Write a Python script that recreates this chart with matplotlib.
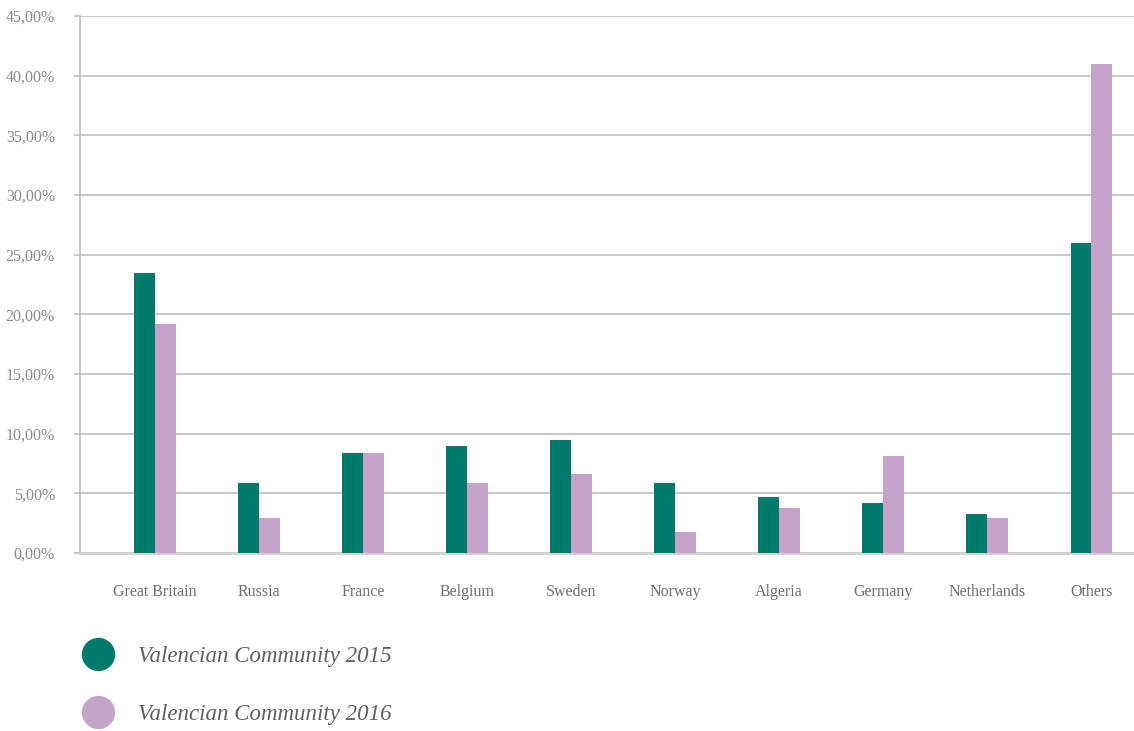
import matplotlib.pyplot as plt
from matplotlib.lines import Line2D
from matplotlib.ticker import FuncFormatter
import numpy as np

countries = ['Great Britain', 'Russia', 'France', 'Belgium', 'Sweden',
             'Norway', 'Algeria', 'Germany', 'Netherlands', 'Others']
share_2015 = [23.5, 5.9, 8.4, 9.0, 9.5, 5.9, 4.7, 4.2, 3.3, 26.0]
share_2016 = [19.2, 2.9, 8.4, 5.9, 6.6, 1.8, 3.8, 8.1, 2.9, 41.0]
series_labels = ['Valencian Community 2015', 'Valencian Community 2016']

teal = '#007a6c'
lilac = '#c6a3cb'
grid_col = '#c4c4c4'
text_col = '#8a8a8a'

plt.rcParams['font.family'] = ['Liberation Serif', 'DejaVu Serif']

fig = plt.figure(figsize=(11.34, 7.31), dpi=100)
ax = fig.add_axes([80 / 1134, 1 - 553 / 731, 1 - 80 / 1134, (553 - 16) / 731])

x = np.arange(len(countries))
w = 0.2
ax.bar(x - w / 2, share_2015, w, color=teal, zorder=3)
ax.bar(x + w / 2, share_2016, w, color=lilac, zorder=3)

ax.set_xlim(-0.72, 9.41)
ax.set_ylim(0, 45)
ax.set_yticks(np.arange(0, 46, 5))
ax.yaxis.set_major_formatter(FuncFormatter(lambda v, p: f'{v:.2f}%'.replace('.', ',')))
ax.yaxis.grid(True, color=grid_col, linewidth=1.3, zorder=0)
ax.set_axisbelow(True)

ax.set_xticks(x)
ax.set_xticklabels(countries)

for s in ['top', 'right']:
    ax.spines[s].set_visible(False)
ax.spines['left'].set_color(grid_col)
ax.spines['left'].set_linewidth(1.3)
ax.spines['bottom'].set_color('#d0d0d0')
ax.spines['bottom'].set_linewidth(2)

ax.tick_params(axis='y', colors=grid_col, labelcolor=text_col, labelsize=11.5,
               length=4, width=1.3, pad=14)
ax.tick_params(axis='x', length=0, labelcolor='#6f6f6f', labelsize=11.5, pad=22)

handles = [Line2D([], [], linestyle='none', marker='o', markersize=24,
                  markerfacecolor=teal, markeredgecolor='none'),
           Line2D([], [], linestyle='none', marker='o', markersize=24,
                  markerfacecolor=lilac, markeredgecolor='none')]
fig.legend(handles, series_labels, loc='upper left', bbox_to_anchor=(0.066, 0.116),
           frameon=False, prop={'style': 'italic', 'size': 16.5},
           labelcolor='#606060', labelspacing=1.6, handletextpad=0.75,
           borderaxespad=0, borderpad=0)

fig.savefig('out.png', dpi=100)
